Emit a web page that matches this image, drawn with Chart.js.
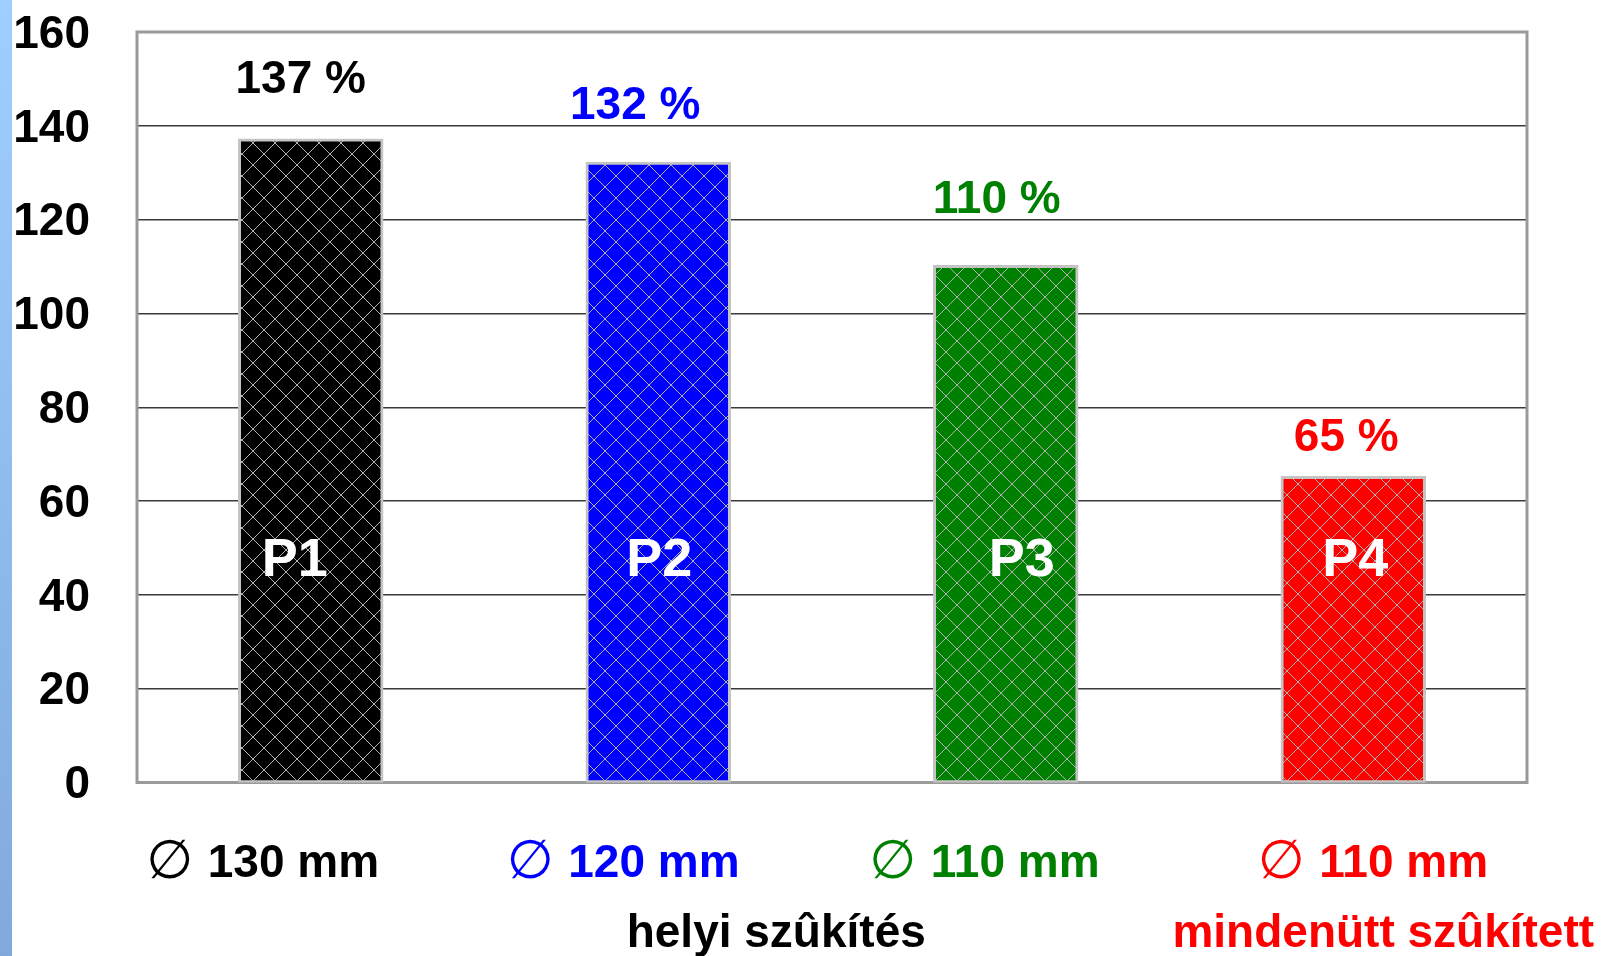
<!DOCTYPE html>
<html>
<head>
<meta charset="utf-8">
<script src="https://cdn.jsdelivr.net/npm/chart.js@4"></script>
<style>
  html, body { margin: 0; padding: 0; background: #fff; }
  #wrap { position: relative; width: 1608px; height: 956px; }
</style>
</head>
<body>
<div id="wrap"><canvas id="chart" width="1608" height="956"></canvas></div>
<script>
// data
const categories = ['P1', 'P2', 'P3', 'P4'];
const values = [137, 132, 110, 65];
const diameters = ['130 mm', '120 mm', '110 mm', '110 mm'];
const notes = ['', 'helyi szûkítés', '', 'mindenütt szûkített'];
const yMin = 0;
const yMax = 160;
const yStep = 20;

// styles
const barColors = ['#000000', '#0000ff', '#008000', '#ff0000'];
const noteColors = ['#000000', '#000000', '#000000', '#ff0000'];
const FONT = '"Liberation Sans", Arial, sans-serif';

// small per-bar nudges to sit the texts like in the original slide
const pctShift = [[-10, 47], [-23, 44], [-9, 54], [-7, 27]];
const nameShift = [-16, 1, 16, 2];
const groupLeft = [-162, -149, -134, -93];
const noteShift = [0, 118, 0, 30];

function hatch(color) {
  const n = 22;
  const c = document.createElement('canvas');
  c.width = n; c.height = n;
  const g = c.getContext('2d');
  g.fillStyle = color;
  g.fillRect(0, 0, n, n);
  g.fillStyle = '#b0b0b0';
  for (let i = 0; i < n; i++) {
    g.fillRect(i, i, 1, 1);
    g.fillRect(n - 1 - i, i, 1, 1);
  }
  return g.createPattern(c, 'repeat');
}

const decor = {
  id: 'decor',
  beforeDraw(chart) {
    const ctx = chart.ctx;
    const grad = ctx.createLinearGradient(0, 0, 0, chart.height);
    grad.addColorStop(0, '#9fcfff');
    grad.addColorStop(1, '#80aadb');
    ctx.save();
    ctx.fillStyle = grad;
    ctx.fillRect(0, 0, 12, chart.height);
    ctx.restore();
  },
  beforeDatasetsDraw(chart) {
    const a = chart.chartArea;
    const ctx = chart.ctx;
    ctx.save();
    ctx.strokeStyle = '#9a9a9a';
    ctx.lineWidth = 3;
    ctx.strokeRect(a.left, a.top, a.right - a.left, a.bottom - a.top);
    ctx.restore();
  },
  afterDatasetsDraw(chart) {
    const ctx = chart.ctx;
    const meta = chart.getDatasetMeta(0);
    const y = chart.scales.y;
    ctx.save();
    meta.data.forEach((bar, i) => {
      // value label
      ctx.font = 'bold 46px ' + FONT;
      ctx.textAlign = 'center';
      ctx.textBaseline = 'alphabetic';
      ctx.fillStyle = barColors[i];
      ctx.fillText(values[i] + ' %', bar.x + pctShift[i][0], bar.y - pctShift[i][1]);

      // name inside the bar
      ctx.font = 'bold 54px ' + FONT;
      ctx.fillStyle = '#ffffff';
      ctx.fillText(categories[i], bar.x + nameShift[i], y.getPixelForValue(44));

      // diameter label
      const left = bar.x + groupLeft[i];
      ctx.fillStyle = barColors[i];
      ctx.font = '54px "DejaVu Sans", sans-serif';
      ctx.fillText('\u2205', left + 21, 878);
      ctx.font = 'bold 46px ' + FONT;
      ctx.textAlign = 'left';
      ctx.fillText(diameters[i], left + 59, 877);

      if (notes[i]) {
        ctx.textAlign = 'center';
        ctx.fillStyle = noteColors[i];
        ctx.fillText(notes[i], bar.x + noteShift[i], 947);
      }
    });
    ctx.restore();
  }
};

new Chart(document.getElementById('chart').getContext('2d'), {
  type: 'bar',
  data: {
    labels: categories,
    datasets: [{
      data: values,
      backgroundColor: barColors.map(hatch),
      borderColor: '#c4c4c4',
      borderWidth: 3,
      borderSkipped: false,
      inflateAmount: 1.5,
      categoryPercentage: 1,
      barPercentage: 0.41
    }]
  },
  options: {
    responsive: false,
    animation: false,
    layout: { padding: { left: 0, top: 32, right: 81, bottom: 173.5 } },
    plugins: { legend: { display: false }, tooltip: { enabled: false } },
    scales: {
      x: { display: false },
      y: {
        min: yMin,
        max: yMax,
        ticks: {
          stepSize: yStep,
          padding: 47,
          labelOffset: 3,
          color: '#000',
          font: { family: FONT, size: 46, weight: 'bold' }
        },
        grid: { color: '#3a3a3a', lineWidth: 1.5, drawTicks: false },
        border: { display: false },
        afterFit(scale) {
          scale.width = 137;
          scale.paddingTop = 0;
          scale.paddingBottom = 0;
        }
      }
    }
  },
  plugins: [decor]
});
</script>
</body>
</html>
